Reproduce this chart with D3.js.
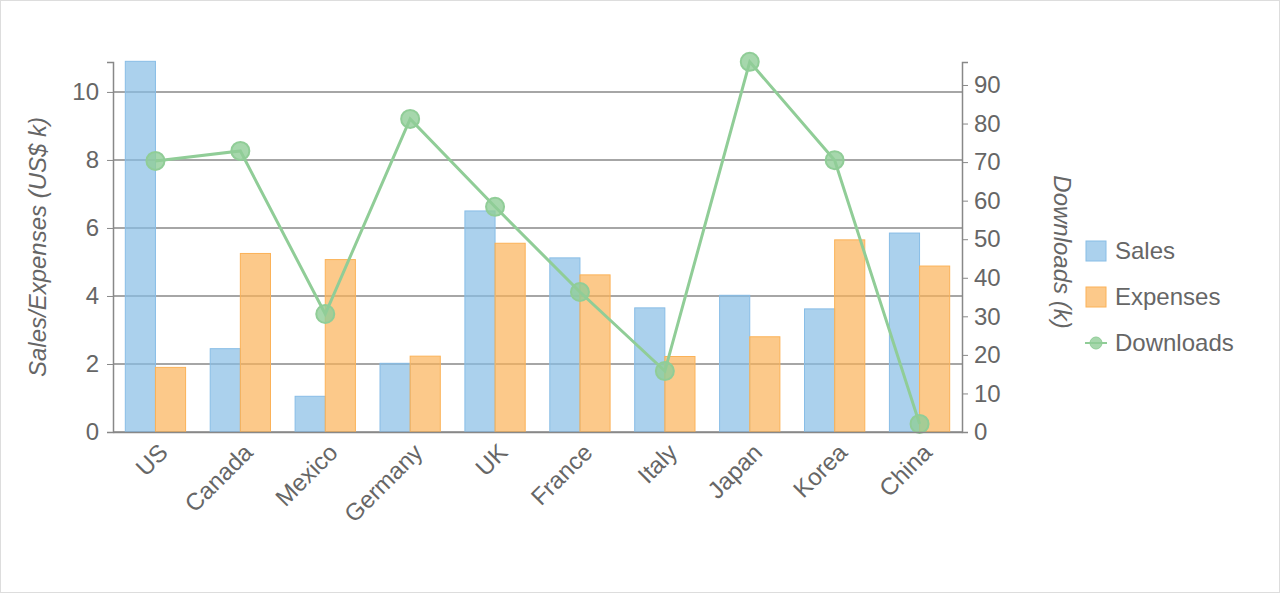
<!DOCTYPE html><html><head><meta charset="utf-8">
<script src="https://cdn.jsdelivr.net/npm/d3@7"></script>
<style>body{margin:0;background:#fff}svg{font-family:"Liberation Sans",Arial,sans-serif}</style>
</head><body><svg id="c" width="1280" height="593"></svg>
<script>
const categories=["US","Canada","Mexico","Germany","UK","France","Italy","Japan","Korea","China"];
const sales=[10.9,2.45,1.05,2.02,6.5,5.12,3.65,4.02,3.62,5.85];
const expenses=[1.9,5.25,5.07,2.23,5.55,4.62,2.22,2.8,5.65,4.88];
const downloads=[70.3,72.9,30.6,81.2,58.4,36.3,15.8,96,70.5,2.1];
const leftTicks=[0,2,4,6,8,10];
const rightTicks=[0,10,20,30,40,50,60,70,80,90];
const svg=d3.select("#c");
svg.append("rect").attr("x",0.5).attr("y",0.5).attr("width",1279).attr("height",592).attr("fill","#fff").attr("stroke","#ddd");
const L=113,R=962,T=62,B=432,txt="#666",FS=24;
const x=d3.scaleBand().domain(categories).range([L,R]).paddingInner(0.29).paddingOuter(0.145);
const y=d3.scaleLinear().domain([0,10.88]).range([B,T]);
const y2=d3.scaleLinear().domain([0,95.96]).range([B,T]);
const g=svg.append("g");
leftTicks.forEach(t=>g.append("line").attr("x1",L).attr("x2",R).attr("y1",y(t)).attr("y2",y(t)).attr("stroke","#888").attr("stroke-width",1.5));
const bw=x.bandwidth()/2;
categories.forEach((c,i)=>{
 g.append("rect").attr("x",x(c)).attr("y",y(sales[i])).attr("width",bw).attr("height",B-y(sales[i])).attr("fill","rgba(136,189,230,0.7)").attr("stroke","#88bde6");
 g.append("rect").attr("x",x(c)+bw).attr("y",y(expenses[i])).attr("width",bw).attr("height",B-y(expenses[i])).attr("fill","rgba(251,178,88,0.7)").attr("stroke","#fbb258");
});
const cx=c=>x(c)+x.bandwidth()/2;
g.append("path").datum(downloads).attr("fill","none").attr("stroke","#90cd97").attr("stroke-width",3)
 .attr("d",d3.line().x((d,i)=>cx(categories[i])).y(d=>y2(d)));
downloads.forEach((d,i)=>g.append("circle").attr("cx",cx(categories[i])).attr("cy",y2(d)).attr("r",9).attr("fill","rgba(144,205,151,0.8)").attr("stroke","#90cd97").attr("stroke-width",2));
const la=svg.append("g").attr("transform",`translate(${L},0)`).call(d3.axisLeft(y).tickValues(leftTicks).tickSize(6).tickPadding(8));
const ra=svg.append("g").attr("transform",`translate(${R},0)`).call(d3.axisRight(y2).tickValues(rightTicks).tickSize(6).tickPadding(6));
const ba=svg.append("g").attr("transform",`translate(0,${B})`).call(d3.axisBottom(x).tickSize(0).tickPadding(10));
[la,ra,ba].forEach(a=>{a.select(".domain").attr("stroke","#888").attr("stroke-width",1.5);a.selectAll("line").attr("stroke","#888");a.selectAll("text").attr("fill",txt).attr("font-size",FS).attr("font-family","Liberation Sans,Arial,sans-serif");});
ba.selectAll("text").attr("text-anchor","end").attr("x",0).attr("y",0).attr("dy","0.35em").attr("transform","translate(8,16) rotate(-45)");
svg.append("text").attr("transform","translate(46,247) rotate(-90)").attr("text-anchor","middle").attr("fill",txt).attr("font-size",FS).attr("font-style","italic").text("Sales/Expenses (US$ k)");
svg.append("text").attr("transform","translate(1054,252) rotate(90)").attr("text-anchor","middle").attr("fill",txt).attr("font-size",FS).attr("font-style","italic").text("Downloads (k)");
const lg=svg.append("g");
[["Sales","rect","rgba(136,189,230,0.7)","#88bde6",251],["Expenses","rect","rgba(251,178,88,0.7)","#fbb258",297],["Downloads","line","rgba(144,205,151,0.8)","#90cd97",343]].forEach(([n,t,f,s,yy])=>{
 if(t==="rect") lg.append("rect").attr("x",1086).attr("y",yy-10).attr("width",20).attr("height",20).attr("fill",f).attr("stroke",s);
 else {lg.append("line").attr("x1",1085).attr("x2",1107).attr("y1",yy).attr("y2",yy).attr("stroke",s).attr("stroke-width",2);
  lg.append("circle").attr("cx",1096).attr("cy",yy).attr("r",6).attr("fill",f).attr("stroke",s);}
 lg.append("text").attr("x",1115).attr("y",yy+8).attr("fill",txt).attr("font-size",FS).text(n);
});
</script></body></html>
